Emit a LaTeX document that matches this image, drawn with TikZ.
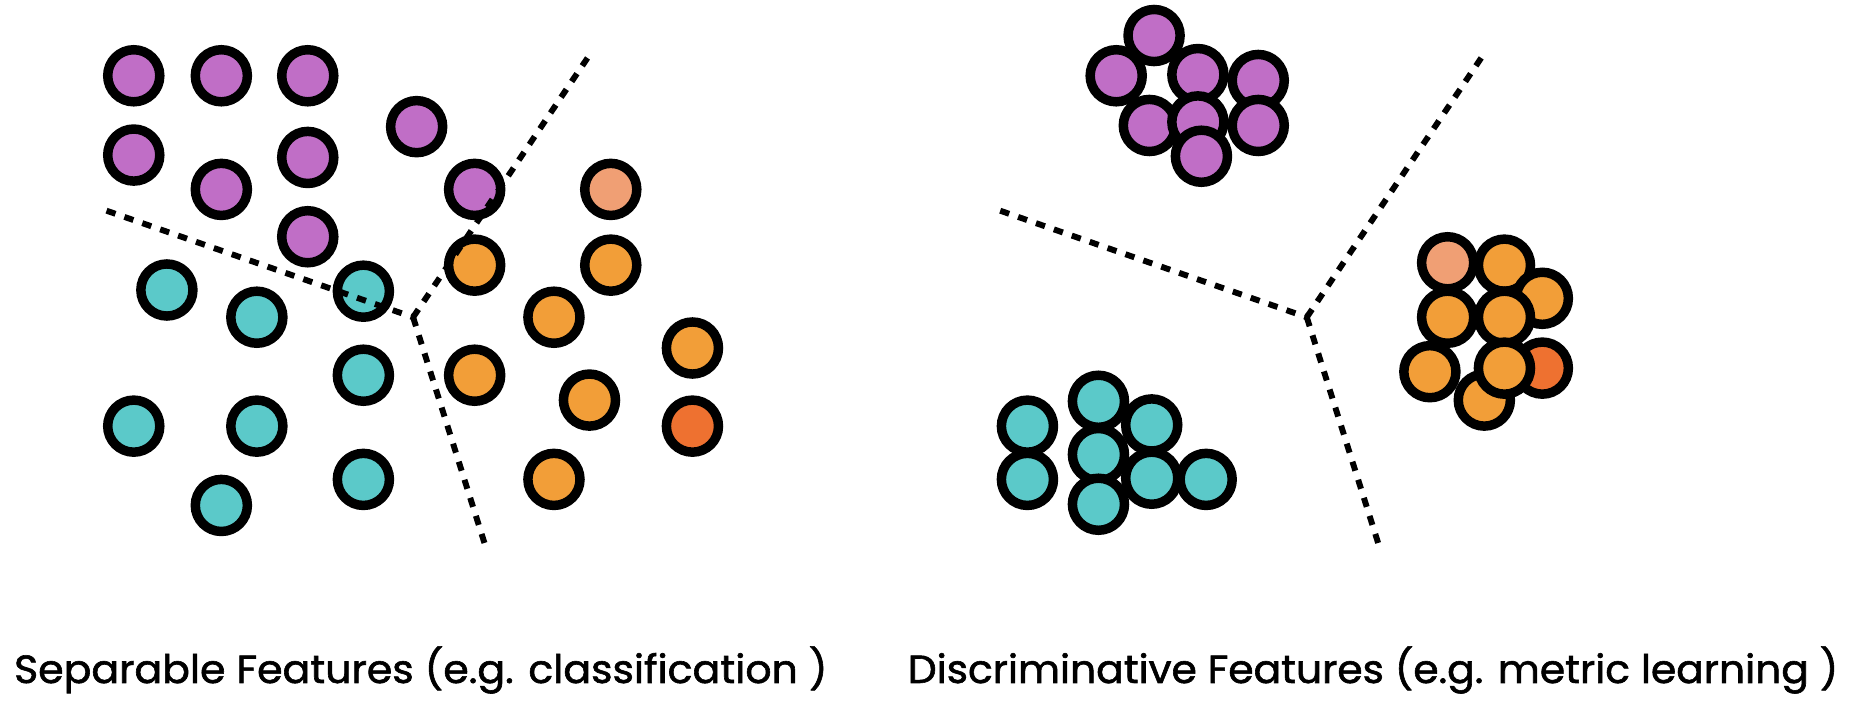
\documentclass[tikz,border=0pt]{standalone}
\usepackage{fontspec}
\setmainfont{Poppins}
\newfontfamily\capfont{Poppins}[FakeBold=1.5]
\usepackage{graphicx}
\definecolor{cpurple}{RGB}{192,110,198}
\definecolor{ccyan}{RGB}{91,201,201}
\definecolor{corange}{RGB}{242,158,56}
\definecolor{cpeach}{RGB}{240,159,116}
\definecolor{cred}{RGB}{238,113,48}
\begin{document}
\begin{tikzpicture}[x=1pt,y=-1pt,
  dot/.style={circle,draw=black,line width=8pt,minimum size=44pt,inner sep=0pt},
  pu/.style={dot,fill=cpurple},
  cy/.style={dot,fill=ccyan},
  og/.style={dot,fill=corange},
  pe/.style={dot,fill=cpeach},
  rd/.style={dot,fill=cred},
  bound/.style={line width=5pt,dash pattern=on 8pt off 8pt},
  lbl/.style={anchor=base,inner sep=0pt}]
\useasboundingbox (0,0) rectangle (1568,594.76);
% ---------- left panel ----------
\node[pu] (lp1) at (113,64) {};
\node[pu] (lp2) at (187,64) {};
\node[pu] (lp3) at (260,64) {};
\node[pu] (lp4) at (352,107) {};
\node[pu] (lp5) at (113,131) {};
\node[pu] (lp6) at (260,133) {};
\node[pu] (lp7) at (187,160) {};
\node[pu] (lp8) at (401,160) {};
\node[pu] (lp9) at (260,200) {};
\node[pe] (lo0) at (516,160) {};
\node[og] (lo1) at (401,224) {};
\node[og] (lo2) at (516,224) {};
\node[og] (lo3) at (468,268) {};
\node[og] (lo4) at (585,294) {};
\node[og] (lo5) at (401,317) {};
\node[og] (lo6) at (498,338) {};
\node[og] (lo7) at (468,405) {};
\node[rd] (lo8) at (585,360) {};
\node[cy] (lc1) at (141,245) {};
\node[cy] (lc2) at (217,268) {};
\node[cy] (lc3) at (307,246) {};
\node[cy] (lc4) at (307,317) {};
\node[cy] (lc5) at (113,360) {};
\node[cy] (lc6) at (217,360) {};
\node[cy] (lc7) at (187,427) {};
\node[cy] (lc8) at (307,405) {};
\coordinate (lj) at (349,268);
\coordinate (la) at (90,178);
\coordinate (lb) at (497,48);
\coordinate (lc) at (410,461);
\draw[bound] (la) -- (lj);
\draw[bound] (lj) -- (lb);
\draw[bound] (lj) -- (lc);
% ---------- right panel ----------
\node[pu] (rpB) at (943,64) {};
\node[pu] (rpA) at (975,30) {};
\node[pu] (rpD) at (1063,68) {};
\node[pu] (rpC) at (1012,63) {};
\node[pu] (rpE) at (971,106) {};
\node[pu] (rpG) at (1063,106) {};
\node[pu] (rpF) at (1012,103) {};
\node[pu] (rpH) at (1015,132) {};
\node[pe] (roP) at (1223,222) {};
\node[og] (ro1) at (1271,224) {};
\node[og] (ro2) at (1303,252) {};
\node[og] (ro3) at (1223,268) {};
\node[og] (ro4) at (1271,268) {};
\node[rd] (roR) at (1303,311) {};
\node[og] (ro6) at (1254,338) {};
\node[og] (ro5) at (1208,314) {};
\node[og] (ro7) at (1271,311) {};
\node[cy] (rc1) at (868,360) {};
\node[cy] (rc2) at (868,405) {};
\node[cy] (rc4) at (928,384) {};
\node[cy] (rc3) at (928,339) {};
\node[cy] (rc5) at (928,426) {};
\node[cy] (rc6) at (973,359) {};
\node[cy] (rc7) at (973,404) {};
\node[cy] (rc8) at (1019,405) {};
\coordinate (rj) at (1104,268);
\coordinate (ra) at (845,178);
\coordinate (rb) at (1252,48);
\coordinate (rc) at (1165,461);
\draw[bound] (ra) -- (rj);
\draw[bound] (rj) -- (rb);
\draw[bound] (rj) -- (rc);
% ---------- captions ----------
\node[lbl] (capL) at (355.5,577) {\resizebox{687pt}{31pt}{\capfont Separable Features (e.g. classification )}};
\node[lbl] (capR) at (1160,577) {\resizebox{786pt}{31pt}{\capfont Discriminative Features (e.g. metric learning )}};
\end{tikzpicture}
\end{document}
